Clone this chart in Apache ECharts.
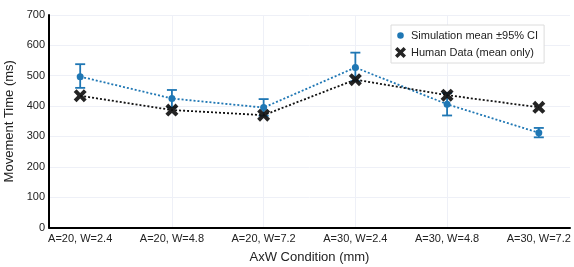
<!DOCTYPE html>
<html><head><meta charset="utf-8">
<script src="https://cdn.jsdelivr.net/npm/echarts@6/dist/echarts.min.js"></script>
<style>html,body{margin:0;padding:0;background:#fff}#c{width:574px;height:267px}</style>
</head><body><div id="c"></div>
<script>
var categories = ['A=20, W=2.4','A=20, W=4.8','A=20, W=7.2','A=30, W=2.4','A=30, W=4.8','A=30, W=7.2'];
var simMean = [497, 425, 395, 527, 406, 312];
var simLow  = [460, 396, 368, 482, 369, 297];
var simHigh = [538, 453, 423, 576, 443, 328];
var humanMean = [434, 387, 370, 487, 436, 396];
var yTicks = [0,100,200,300,400,500,600,700];

var BLUE = '#1f77b4';
var XPATH = 'path://M0,2.2 L2.2,0 L5,2.8 L7.8,0 L10,2.2 L7.2,5 L10,7.8 L7.8,10 L5,7.2 L2.2,10 L0,7.8 L2.8,5 Z';
var DOTPATH = 'path://M0,0 M10,10 M5,2 A3,3 0 1 1 5,8 A3,3 0 1 1 5,2 Z';
var FONT = '"Liberation Sans", Arial, sans-serif';
var catIdx = categories.map(function(c,i){return i;});

var simData = simMean.map(function(v,i){return [i,v];});
var humData = humanMean.map(function(v,i){return [i,v];});
var errData = simMean.map(function(v,i){return [i, simLow[i], simHigh[i]];});

var chart = echarts.init(document.getElementById('c'), null, {renderer:'canvas'});
chart.setOption({
  animation:false,
  textStyle:{fontFamily:FONT},
  grid:{left:49, right:4, top:15, bottom:39.5, containLabel:false, outerBoundsMode:'none'},
  legend:{
    left:391, top:25, orient:'vertical',
    backgroundColor:'#fff', borderColor:'#dcdcdc', borderWidth:1,
    padding:[5,6,5,4], itemGap:6, itemWidth:11, itemHeight:11,
    textStyle:{fontFamily:FONT, fontSize:11, color:'#222'},
    data:[
      {name:'Simulation mean ±95% CI', icon:DOTPATH, itemStyle:{color:BLUE}},
      {name:'Human Data (mean only)', icon:XPATH, itemStyle:{color:'#111'}}
    ]
  },
  xAxis:{
    type:'value', min:-0.34, max:5.34,
    name:'AxW Condition (mm)', nameLocation:'middle', nameGap:23,
    nameTextStyle:{fontFamily:FONT, fontSize:13, color:'#222'},
    axisLine:{show:true, onZero:false, lineStyle:{color:'#000', width:2}},
    axisTick:{show:false, customValues:catIdx},
    axisLabel:{fontFamily:FONT, fontSize:11, color:'#222', margin:6, customValues:catIdx,
      formatter:function(v){ return categories[Math.round(v)] || ''; }},
    splitLine:{show:true, showMinLine:false, showMaxLine:false, lineStyle:{color:'#eef0f7', width:1}}
  },
  yAxis:{
    type:'value', min:yTicks[0], max:yTicks[yTicks.length-1], interval:100,
    name:'Movement Time (ms)', nameLocation:'middle', nameGap:28,
    nameTextStyle:{fontFamily:FONT, fontSize:13, color:'#222'},
    axisLine:{show:true, onZero:false, lineStyle:{color:'#000', width:2}},
    axisTick:{show:false},
    axisLabel:{fontFamily:FONT, fontSize:11, color:'#222', margin:4},
    splitLine:{show:true, lineStyle:{color:'#eef0f7', width:1}}
  },
  series:[
    {
      name:'Simulation mean ±95% CI', type:'line', data:simData,
      symbol:'circle', symbolSize:7, z:3,
      itemStyle:{color:BLUE},
      lineStyle:{color:BLUE, width:1.8, type:[2,2]}
    },
    {
      name:'err', type:'custom', data:errData, z:3,
      renderItem:function(params, api){
        var x = api.value(0);
        var lo = api.coord([x, api.value(1)]);
        var hi = api.coord([x, api.value(2)]);
        var hw = 5;
        var st = {stroke:BLUE, lineWidth:1.8};
        return {type:'group', children:[
          {type:'line', shape:{x1:lo[0],y1:lo[1],x2:hi[0],y2:hi[1]}, style:st},
          {type:'line', shape:{x1:lo[0]-hw,y1:lo[1],x2:lo[0]+hw,y2:lo[1]}, style:st},
          {type:'line', shape:{x1:hi[0]-hw,y1:hi[1],x2:hi[0]+hw,y2:hi[1]}, style:st}
        ]};
      },
      encode:{x:0, y:[1,2]}
    },
    {
      name:'Human Data (mean only)', type:'line', data:humData,
      symbol:XPATH, symbolSize:13, z:4,
      itemStyle:{color:'#111', opacity:0.92},
      lineStyle:{color:'#111', width:1.8, type:[2,2]}
    }
  ]
});
</script></body></html>
